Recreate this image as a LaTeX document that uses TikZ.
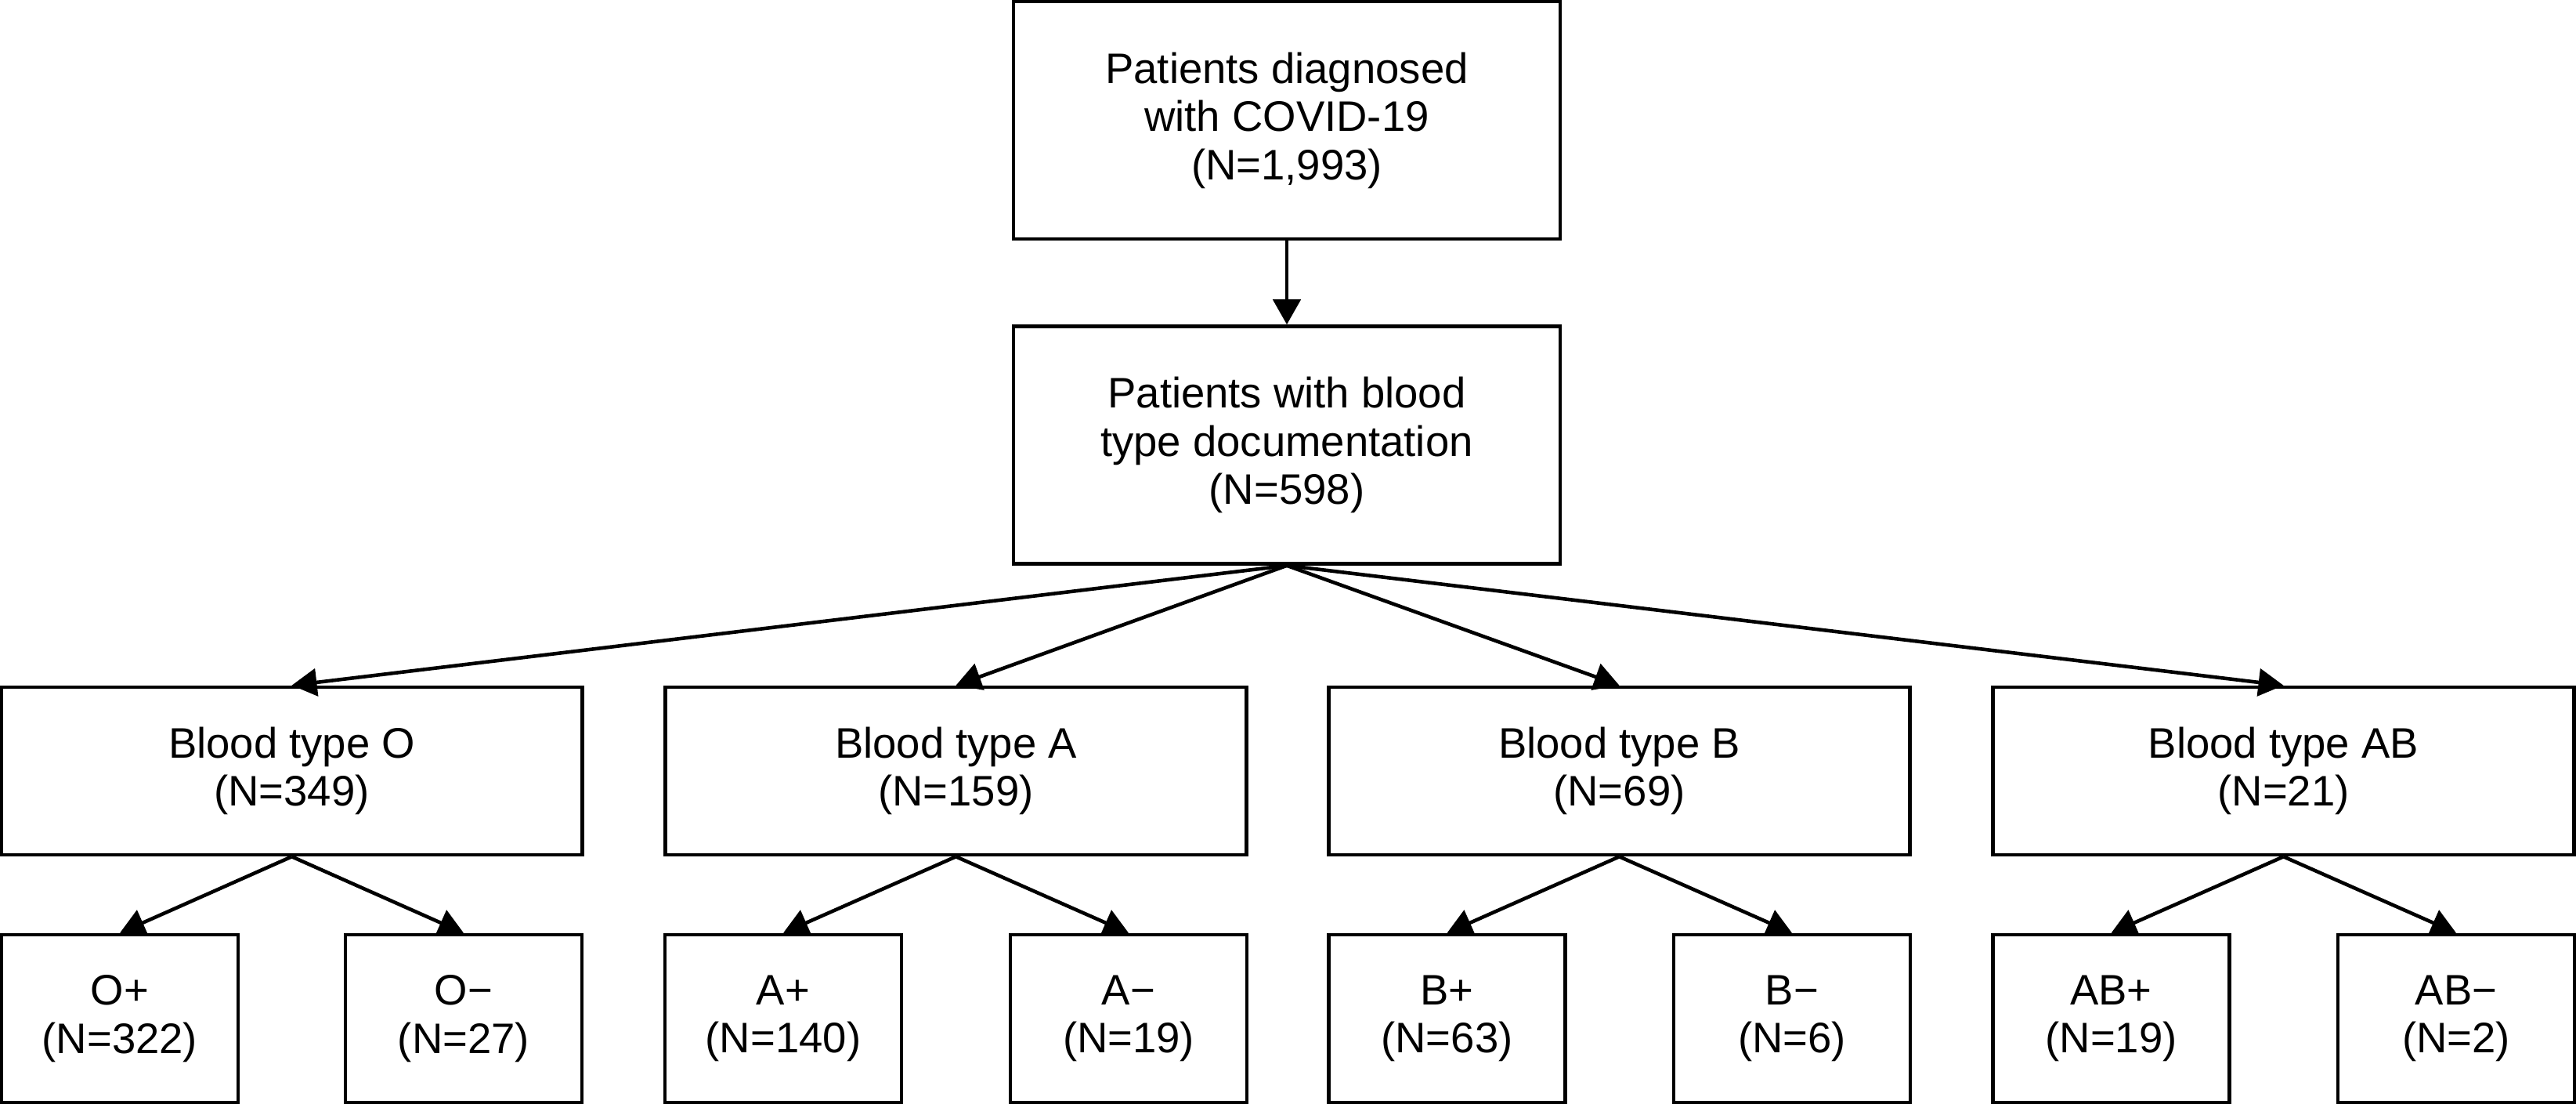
\documentclass[tikz,border=0pt]{standalone}
\usepackage{fontspec}
\setmainfont{Liberation Sans}
\usetikzlibrary{arrows.meta}
\tikzset{
	box/.style={draw,line width=1.3pt,align=center,inner sep=0pt,font=\fontsize{15.5}{17.5}\selectfont},
	topbox/.style={box,minimum width=6.98cm,minimum height=3.03cm},
	grpbox/.style={box,minimum width=7.42cm,minimum height=2.14cm},
	subbox/.style={box,minimum width=3.02cm,minimum height=2.14cm},
	arr/.style={line width=1.3pt,-{Triangle[length=0.32cm,width=0.35cm]}}
}
\begin{document}
\begin{tikzpicture}
\useasboundingbox (0,0) rectangle (32.89,-14.08);
	\pgfmathsetmacro{\ya}{-1.535};
	\pgfmathsetmacro{\yb}{-5.68};
	\pgfmathsetmacro{\yc}{-9.84};
	\pgfmathsetmacro{\yd}{-13.0};
	% top of the chart
	\node[topbox] (diag) at (16.43,\ya) {Patients diagnosed\\with COVID-19\\(N=1,993)};
	\node[topbox] (doc) at (16.43,\yb) {Patients with blood\\type documentation\\(N=598)};
	% blood groups
	\node[grpbox] (gO) at (3.725,\yc) {Blood type O\\(N=349)};
	\node[grpbox] (gA) at (12.205,\yc) {Blood type A\\(N=159)};
	\node[grpbox] (gB) at (20.675,\yc) {Blood type B\\(N=69)};
	\node[grpbox] (gAB) at (29.155,\yc) {Blood type AB\\(N=21)};
	% rhesus factor
	\node[subbox] (gOp) at (1.53,\yd) {O+\\(N=322)};
	\node[subbox] (gOm) at (5.92,\yd) {O−\\(N=27)};
	\node[subbox] (gAp) at (10.00,\yd) {A+\\(N=140)};
	\node[subbox] (gAm) at (14.41,\yd) {A−\\(N=19)};
	\node[subbox] (gBp) at (18.475,\yd) {B+\\(N=63)};
	\node[subbox] (gBm) at (22.88,\yd) {B−\\(N=6)};
	\node[subbox] (gABp) at (26.955,\yd) {AB+\\(N=19)};
	\node[subbox] (gABm) at (31.36,\yd) {AB−\\(N=2)};
	% arrows
	\draw[arr] (diag.south) -- (doc.north);
	\foreach \g in {O,A,B,AB}{
		\draw[arr] (doc.south) -- (g\g.north);
		\draw[arr] (g\g.south) -- (g\g p.north);
		\draw[arr] (g\g.south) -- (g\g m.north);
	}
\end{tikzpicture}
\end{document}
